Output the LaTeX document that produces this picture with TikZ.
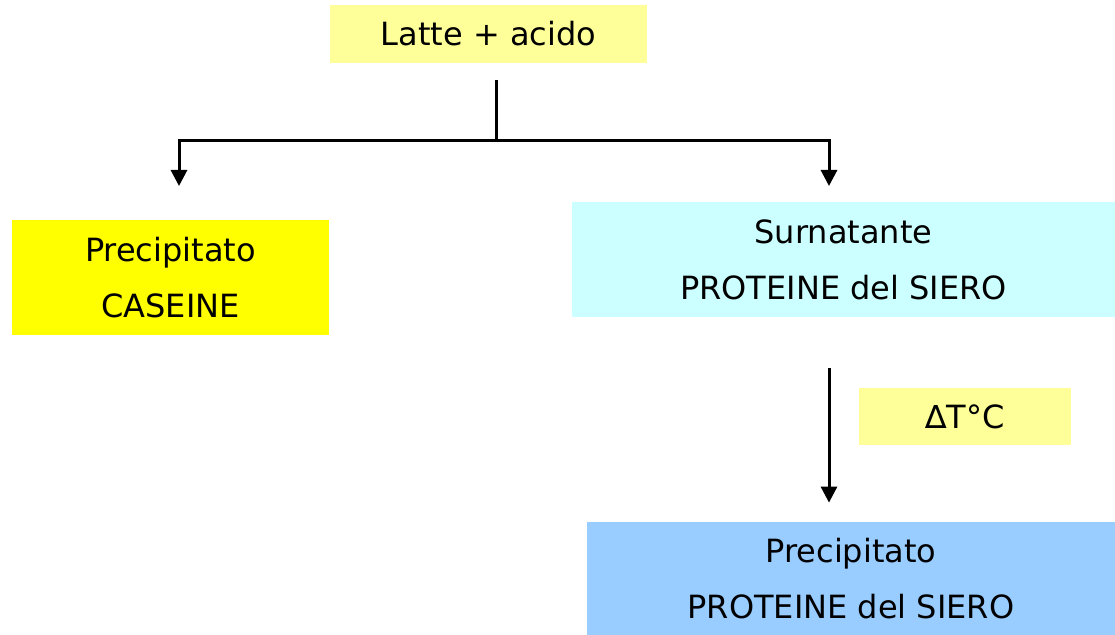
\documentclass[tikz,border=0pt]{standalone}
\usepackage{fontspec}
\setmainfont{DejaVu Sans}
\usepackage{tikz}
\usetikzlibrary{arrows.meta}

\definecolor{paleyellow}{HTML}{FFFF99}
\definecolor{brightyellow}{HTML}{FFFF00}
\definecolor{palecyan}{HTML}{CCFFFF}
\definecolor{paleblue}{HTML}{99CCFF}

\tikzset{
  box/.style={inner sep=0pt, align=center, font=\fontsize{16}{28}\selectfont},
  flow/.style={line width=1.5pt, -{Triangle[length=8pt,width=8pt]}},
  plain/.style={line width=1.5pt}
}

\begin{document}
\begin{tikzpicture}[x=0.5pt,y=-0.5pt]
\useasboundingbox (0,0) rectangle (1115,635);
\node[box, fill=paleyellow, minimum width=158.5pt, minimum height=29pt] (latte) at (488.5,34) {Latte + acido};
\node[box, fill=brightyellow, minimum width=158.5pt, minimum height=57.5pt] (caseine) at (170.5,277.5) {Precipitato\\CASEINE};
\node[box, fill=palecyan, minimum width=271.5pt, minimum height=57.5pt] (surnatante) at (843.5,259.5) {Surnatante\\PROTEINE del SIERO};
\node[box, fill=paleyellow, minimum width=106pt, minimum height=28.5pt] (calore) at (965,416.5) {∆T°C};
\node[box, fill=paleblue, minimum width=264pt, minimum height=56.5pt] (siero) at (851,578.5) {Precipitato\\PROTEINE del SIERO};
\coordinate (split) at (496,141);
\coordinate (leftend) at (179,186);
\coordinate (rightend) at (829,186);
\coordinate (drop) at (829,0);
% ramificazione
\draw[plain] ([yshift=-8.5pt]latte.south -| split) -- (split);
\draw[flow] (split) -| (leftend);
\draw[flow] (split) -| (rightend);
% riscaldamento
\draw[flow, shorten <=25.5pt, shorten >=9.5pt] (surnatante.south -| drop) -- (siero.north -| drop);
\end{tikzpicture}
\end{document}
